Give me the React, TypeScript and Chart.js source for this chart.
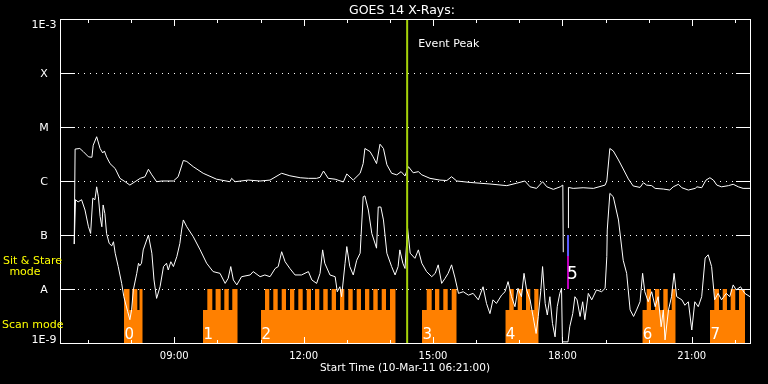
import React, { useEffect, useRef } from 'react';
import { Chart, registerables } from 'chart.js';

Chart.register(...registerables);

// ---------- data (time in decimal hours of 10-Mar-2011, flux in W/m^2) ----------
const chartTitle = 'GOES 14 X-Rays:';
const xAxisTitle = 'Start Time (10-Mar-11 06:21:00)';
const xMinHour = 6.35;
const xMaxHour = 22.35;
const xTickHours = [9, 12, 15, 18, 21];
const xTickLabels = ['09:00', '12:00', '15:00', '18:00', '21:00'];
const hourTicks = [7, 8, 9, 10, 11, 12, 13, 14, 15, 16, 17, 18, 19, 20, 21, 22];
const yTickValues = [1e-9, 1e-8, 1e-7, 1e-6, 1e-5, 1e-4, 1e-3];
const yTickLabels = ['1E-9', 'A', 'B', 'C', 'M', 'X', '1E-3'];

const longTimes = [
  6.68, 6.70, 6.81, 6.89, 7.01, 7.09, 7.12, 7.20, 7.28, 7.34, 7.38, 7.43, 7.51, 7.63, 7.74, 7.86,
  7.97, 8.09, 8.21, 8.32, 8.40, 8.48, 8.59, 8.71, 8.98, 9.09, 9.21, 9.29, 9.44, 9.67, 9.98, 10.29,
  10.33, 10.41, 10.72, 10.99, 11.22, 11.49, 11.68, 11.92, 12.11, 12.30, 12.38, 12.46, 12.57, 12.73,
  12.92, 13.00, 13.15, 13.31, 13.38, 13.42, 13.54, 13.61, 13.69, 13.77, 13.85, 13.93, 14.04, 14.16,
  14.26, 14.35, 14.43, 14.54, 14.66, 14.74, 14.93, 15.16, 15.32, 15.43, 15.55, 15.86, 16.32, 16.71,
  16.94, 17.13, 17.25, 17.40, 17.54, 17.64, 17.79, 17.95, 18.01, 18.02, 18.07, 18.135, 18.14, 18.25,
  18.48, 18.72, 18.99, 19.03, 19.10, 19.18, 19.30, 19.41, 19.53, 19.64, 19.80, 19.88, 19.95, 20.07,
  20.15, 20.34, 20.49, 20.57, 20.69, 20.77, 20.92, 21.08, 21.12, 21.23, 21.33, 21.42, 21.50, 21.58,
  21.69, 21.85, 21.96, 22.08, 22.19, 22.35,
];
const longFlux = [
  6.8e-8, 3.9e-6, 4.0e-6, 3.5e-6, 2.8e-6, 2.75e-6, 4.6e-6, 6.6e-6, 4.0e-6, 3.3e-6, 3.6e-6, 2.8e-6, 2.1e-6, 1.7e-6, 1.12e-6, 9.7e-7,
  8.4e-7, 9.7e-7, 1.12e-6, 1.2e-6, 1.65e-6, 1.3e-6, 9.7e-7, 1.0e-6, 1.0e-6, 1.2e-6, 2.4e-6, 2.3e-6, 1.84e-6, 1.39e-6, 1.08e-6, 9.7e-7,
  1.12e-6, 9.7e-7, 1.04e-6, 1.0e-6, 1.04e-6, 1.39e-6, 1.25e-6, 1.15e-6, 1.12e-6, 1.12e-6, 1.17e-6, 1.53e-6, 1.12e-6, 1.08e-6,
  9.6e-7, 1.35e-6, 1.04e-6, 1.39e-6, 2.1e-6, 4.0e-6, 3.5e-6, 2.8e-6, 2.1e-6, 4.8e-6, 4.0e-6, 2.0e-6, 1.39e-6, 1.3e-6,
  1.49e-6, 1.24e-6, 1.84e-6, 1.42e-6, 1.49e-6, 1.3e-6, 1.12e-6, 1.04e-6, 1.02e-6, 1.2e-6, 1.0e-6, 9.4e-7, 8.8e-7, 8.2e-7,
  9.1e-7, 1.0e-6, 7.8e-7, 7.3e-7, 9.7e-7, 7.8e-7, 7.0e-7, 7.8e-7, 8.4e-7, 4.8e-8, null, 1.35e-7, 7.6e-7, 7.3e-7,
  7.5e-7, 7.3e-7, 8.4e-7, 1.0e-6, 4.0e-6, 3.6e-6, 2.45e-6, 1.67e-6, 1.09e-6, 8.1e-7, 7.6e-7, 9.3e-7, 8.4e-7, 8.2e-7,
  7.3e-7, 7.1e-7, 6.8e-7, 7.8e-7, 8.7e-7, 7.5e-7, 6.8e-7, 7.3e-7, 7.8e-7, 7.5e-7, 1.04e-6, 1.15e-6, 1.04e-6, 8.4e-7,
  7.8e-7, 8.2e-7, 8.7e-7, 7.8e-7, 7.3e-7, 7.3e-7,
];

const shortTimes = [
  6.68, 6.71, 6.77, 6.85, 6.93, 7.01, 7.06, 7.11, 7.16, 7.20, 7.24, 7.28, 7.32, 7.35, 7.39, 7.43,
  7.49, 7.55, 7.59, 7.63, 7.70, 7.78, 7.83, 7.92, 7.97, 8.01, 8.05, 8.13, 8.17, 8.20, 8.24, 8.28,
  8.40, 8.48, 8.53, 8.59, 8.67, 8.75, 8.82, 8.86, 8.92, 8.98, 9.06, 9.13, 9.17, 9.21, 9.29, 9.44,
  9.60, 9.75, 9.90, 10.06, 10.18, 10.25, 10.31, 10.37, 10.45, 10.56, 10.76, 10.83, 10.99, 11.10,
  11.22, 11.34, 11.41, 11.49, 11.57, 11.68, 11.80, 11.95, 12.11, 12.19, 12.30, 12.38, 12.44, 12.49,
  12.61, 12.73, 12.78, 12.84, 12.88, 12.96, 13.00, 13.07, 13.15, 13.23, 13.31, 13.38, 13.42, 13.50,
  13.58, 13.69, 13.73, 13.79, 13.85, 13.93, 14.04, 14.12, 14.19, 14.23, 14.30, 14.35, 14.41, 14.47,
  14.58, 14.66, 14.74, 14.85, 14.97, 15.05, 15.12, 15.20, 15.28, 15.35, 15.43, 15.51, 15.59, 15.70,
  15.82, 15.93, 16.05, 16.16, 16.24, 16.32, 16.39, 16.47, 16.59, 16.67, 16.74, 16.82, 16.90, 16.97,
  17.05, 17.11, 17.17, 17.25, 17.32, 17.39, 17.44, 17.50, 17.54, 17.60, 17.65, 17.71, 17.77, 17.83,
  17.88, 17.94, 17.98, 18.00, 18.13, 18.17, 18.24, 18.29, 18.34, 18.41, 18.47, 18.52, 18.60, 18.68,
  18.79, 18.91, 18.99, 19.03, 19.04, 19.10, 19.18, 19.30, 19.41, 19.49, 19.57, 19.65, 19.72, 19.80,
  19.86, 19.91, 19.99, 20.07, 20.15, 20.22, 20.29, 20.34, 20.38, 20.46, 20.53, 20.59, 20.65, 20.77,
  20.84, 20.92, 21.00, 21.07, 21.15, 21.23, 21.31, 21.38, 21.46, 21.53, 21.61, 21.69, 21.80, 21.88,
  21.96, 22.03, 22.13, 22.23, 22.35,
];
const shortFlux = [
  6.8e-8, 4.5e-7, 4.1e-7, 4.5e-7, 2.9e-7, 1.42e-7, 1.07e-7, 4.8e-7, 4.5e-7, 7.8e-7, 5.1e-7, 2.2e-7, 1.42e-7, 3.6e-7, 2.5e-7, 1.07e-7,
  7.0e-8, 6.3e-8, 7.5e-8, 4.6e-8, 2.6e-8, 1.27e-8, 7.2e-9, 3.8e-9, 2.7e-9, 4.1e-9, 9.6e-9, 1.95e-8, 3.0e-8, 2.7e-8, 3.0e-8, 5.3e-8,
  1.0e-7, 4.6e-8, 1.47e-8, 6.7e-9, 1.1e-8, 2.6e-8, 3.0e-8, 2.25e-8, 3.2e-8, 2.6e-8, 4.0e-8, 7.0e-8, 1.24e-7, 1.9e-7, 1.42e-7, 9.3e-8,
  5.3e-8, 3.0e-8, 2.1e-8, 1.95e-8, 1.27e-8, 1.58e-8, 2.6e-8, 1.47e-8, 1.19e-8, 1.69e-8, 1.82e-8, 2.1e-8, 1.69e-8, 1.82e-8,
  1.69e-8, 2.4e-8, 2.6e-8, 4.9e-8, 3.2e-8, 2.4e-8, 1.82e-8, 1.82e-8, 2.1e-8, 1.47e-8, 1.27e-8, 1.95e-8, 5.3e-8, 3.0e-8,
  1.82e-8, 1.69e-8, 8.9e-9, 1.1e-8, 7.2e-9, 3.0e-8, 6.1e-8, 2.6e-8, 1.82e-8, 3.4e-8, 4.6e-8, 5.1e-7, 5.3e-7, 2.9e-7,
  1.07e-7, 5.7e-8, 3.3e-7, 3.3e-7, 1.9e-7, 4.6e-8, 2.6e-8, 1.82e-8, 2.6e-8, 5.3e-8, 3.0e-8, 2.4e-8, 1.33e-7, 4.6e-8,
  3.7e-8, 5.3e-8, 3.0e-8, 2.1e-8, 1.69e-8, 1.95e-8, 2.8e-8, 1.27e-8, 1.58e-8, 1.95e-8, 2.8e-8, 1.6e-8, 8.3e-9, 8.9e-9,
  7.7e-9, 8.3e-9, 6.3e-9, 1.1e-8, 5.4e-9, 3.5e-9, 6.3e-9, 5.4e-9, 7.7e-9, 8.9e-9, 1.37e-8, 7.2e-9, 4.7e-9, 1.03e-8,
  7.2e-9, 1.95e-8, 9.6e-9, 6.3e-9, 3.1e-9, 1.5e-9, 3.1e-9, 9.6e-9, 2.6e-8, 5.4e-9, 3.3e-9, 7.2e-9, 2.3e-9, 1.3e-9,
  4.7e-9, 8.3e-9, 1.03e-8, 1.05e-9, 1.05e-9, 2.0e-9, 3.5e-9, 7.2e-9, 6.3e-9, 3.1e-9, 5.8e-9, 2.7e-9, 8.3e-9, 6.3e-9,
  9.6e-9, 8.9e-9, 1.03e-8, 4.0e-8, 1.24e-7, 5.9e-7, 5.1e-7, 1.9e-7, 3.4e-8, 1.95e-8, 4.1e-9, 3.1e-9, 4.1e-9, 5.8e-9,
  1.95e-8, 8.9e-9, 5.8e-9, 8.9e-9, 4.7e-9, 7.2e-9, 2.0e-9, 4.1e-9, 1.14e-9, 4.1e-9, 7.2e-9, 1.95e-8, 7.2e-9, 6.3e-9,
  5.0e-9, 5.8e-9, 1.74e-9, 5.8e-9, 4.7e-9, 7.2e-9, 3.75e-8, 4.3e-8, 2.6e-8, 6.3e-9, 8.3e-9, 6.3e-9, 8.3e-9, 7.2e-9,
  1.19e-8, 9.6e-9, 1.1e-8, 8.3e-9, 7.2e-9,
];

// observing mode segments
const scanSegLabels = ['0', '1', '2', '3', '4', '6', '7'];
const scanSegStart = [7.834, 9.666, 11.011, 14.744, 16.676, 19.853, 21.422];
const scanSegEnd = [8.268, 10.471, 14.134, 15.549, 17.45, 20.627, 22.234];
const scanSpikes: number[][][] = [
  [[7.834, 7.962], [8.027, 8.143], [8.194, 8.268]],
  [[9.766, 9.882], [9.958, 10.076], [10.16, 10.262], [10.345, 10.471]],
  [[11.104, 11.203], [11.296, 11.398], [11.491, 11.591], [11.683, 11.783], [11.876, 11.978], [12.071, 12.17],
   [12.263, 12.363], [12.455, 12.558], [12.65, 12.75], [12.843, 12.943], [13.035, 13.137], [13.23, 13.33],
   [13.423, 13.522], [13.615, 13.717], [13.81, 13.909], [14.002, 14.134]],
  [[14.853, 14.969], [15.046, 15.145], [15.238, 15.34], [15.433, 15.549]],
  [[16.768, 16.871], [16.963, 17.063], [17.156, 17.255], [17.348, 17.45]],
  [[19.955, 20.054], [20.147, 20.247], [20.34, 20.442], [20.534, 20.627]],
  [[21.522, 21.631], [21.717, 21.816], [21.902, 22.009], [22.095, 22.234]],
];
const scanBaseFlux = 4.1e-9;
const sitStareFlux = 1e-8;

const eventPeakTime = 14.4;
const eventPeakLabel = 'Event Peak';
const marker5Time = 18.13;
const marker5Label = '5';
const marker5Flux = [1e-7, 4.1e-8, 1e-8];

const WHITE = '#ffffff';
const ORANGE = '#ff8000';
const GREEN = '#a6d40a';
const BLUE = '#5b5bff';
const MAGENTA = '#c000c0';
const YELLOW = '#ffff00';

function segmentPoints(i: number) {
  const pts: { x: number; y: number }[] = [{ x: scanSegStart[i], y: scanBaseFlux }];
  scanSpikes[i].forEach(([a, b]) => {
    pts.push({ x: a, y: scanBaseFlux }, { x: a, y: sitStareFlux }, { x: b, y: sitStareFlux }, { x: b, y: scanBaseFlux });
  });
  pts.push({ x: scanSegEnd[i], y: scanBaseFlux });
  return pts;
}

const decorPlugin = {
  id: 'goesDecor',
  beforeDraw(chart: any) {
    const { ctx, width, height } = chart;
    ctx.save();
    ctx.fillStyle = '#000';
    ctx.fillRect(0, 0, width, height);
    ctx.restore();
  },
  beforeDatasetsDraw(chart: any) {
    const { ctx, chartArea, scales } = chart;
    const y = scales.y;
    ctx.save();
    ctx.strokeStyle = WHITE;
    ctx.lineWidth = 1;
    ctx.setLineDash([1, 5]);
    yTickValues.slice(1, -1).forEach((v) => {
      const py = Math.round(y.getPixelForValue(v)) + 0.5;
      ctx.beginPath();
      ctx.moveTo(chartArea.left + 18, py);
      ctx.lineTo(chartArea.right - 14, py);
      ctx.stroke();
    });
    ctx.restore();
  },
  afterDatasetsDraw(chart: any) {
    const { ctx, chartArea, scales } = chart;
    const { left, right, top, bottom } = chartArea;
    const x = scales.x;
    const y = scales.y;
    ctx.save();
    ctx.setLineDash([]);
    ctx.strokeStyle = WHITE;
    ctx.lineWidth = 1;
    ctx.strokeRect(left + 0.5, top + 0.5, right - left, bottom - top);
    // y ticks
    yTickValues.forEach((v) => {
      const py = Math.round(y.getPixelForValue(v)) + 0.5;
      ctx.beginPath();
      ctx.moveTo(left, py);
      ctx.lineTo(left + 15, py);
      ctx.moveTo(right - 14, py);
      ctx.lineTo(right + 1, py);
      ctx.stroke();
    });
    // x ticks
    hourTicks.forEach((h) => {
      const px = Math.round(x.getPixelForValue(h)) + 0.5;
      const len = xTickHours.includes(h) ? 7 : 4;
      ctx.beginPath();
      ctx.moveTo(px, top);
      ctx.lineTo(px, top + len);
      ctx.moveTo(px, bottom + 1);
      ctx.lineTo(px, bottom + 1 - len);
      ctx.stroke();
    });
    // y labels
    ctx.fillStyle = WHITE;
    ctx.font = '11px "DejaVu Sans"';
    ctx.textAlign = 'center';
    ctx.textBaseline = 'alphabetic';
    yTickValues.forEach((v, i) => {
      const py = y.getPixelForValue(v);
      let by = py + 4.3;
      if (i === 0) by = py;
      if (i === yTickValues.length - 1) by = py + 8.5;
      ctx.fillText(yTickLabels[i], 44, by);
    });
    // title
    ctx.font = '12.5px "DejaVu Sans"';
    ctx.fillText(chartTitle, (left + right) / 2 - 3, 14);
    // event peak label
    ctx.textAlign = 'left';
    ctx.font = '11px "DejaVu Sans"';
    ctx.fillText(eventPeakLabel, x.getPixelForValue(eventPeakTime) + 11, 47);
    // segment labels
    ctx.font = '15px "DejaVu Sans"';
    scanSegLabels.forEach((lab, i) => {
      ctx.fillText(lab, x.getPixelForValue(scanSegStart[i]) + 0.5, 338.5);
    });
    ctx.font = '17px "DejaVu Sans"';
    ctx.fillText(marker5Label, x.getPixelForValue(marker5Time) - 1, 278.5);
    // mode labels
    ctx.fillStyle = YELLOW;
    ctx.font = '11px "DejaVu Sans"';
    ctx.fillText('Sit & Stare', 3, 263.5);
    ctx.textAlign = 'center';
    ctx.fillText('mode', 25, 275);
    ctx.textAlign = 'left';
    ctx.fillText('Scan mode', 2, 327.5);
    ctx.restore();
  },
};

export default function App() {
  const canvasRef = useRef<HTMLCanvasElement | null>(null);

  useEffect(() => {
    document.body.style.margin = '0';
    document.body.style.background = '#000';
    const canvas = canvasRef.current;
    if (!canvas) return;

    const datasets: any[] = [];
    datasets.push({
      label: 'Event Peak',
      data: [{ x: eventPeakTime, y: 1e-9 }, { x: eventPeakTime, y: 1e-3 }],
      borderColor: GREEN,
      borderWidth: 2,
      pointRadius: 0,
      order: 0,
    });
    datasets.push({
      label: 'marker5a',
      data: [{ x: marker5Time, y: marker5Flux[0] }, { x: marker5Time, y: marker5Flux[1] }],
      borderColor: BLUE,
      borderWidth: 2,
      pointRadius: 0,
      order: 1,
    });
    datasets.push({
      label: 'marker5b',
      data: [{ x: marker5Time, y: marker5Flux[1] }, { x: marker5Time, y: marker5Flux[2] }],
      borderColor: MAGENTA,
      borderWidth: 2,
      pointRadius: 0,
      order: 1,
    });
    datasets.push({
      label: 'GOES 1-8 A',
      data: longTimes.map((t, i) => ({ x: t, y: longFlux[i] })),
      borderColor: WHITE,
      borderWidth: 1,
      pointRadius: 0,
      tension: 0,
      spanGaps: false,
      order: 2,
    });
    datasets.push({
      label: 'GOES 0.5-4 A',
      data: shortTimes.map((t, i) => ({ x: t, y: shortFlux[i] })),
      borderColor: WHITE,
      borderWidth: 1,
      pointRadius: 0,
      tension: 0,
      spanGaps: false,
      order: 2,
    });
    scanSegLabels.forEach((lab, i) => {
      datasets.push({
        label: 'segment ' + lab,
        data: segmentPoints(i),
        borderColor: 'rgba(0,0,0,0)',
        borderWidth: 1,
        backgroundColor: ORANGE,
        fill: 'start',
        pointRadius: 0,
        tension: 0,
        order: 3,
      });
    });

    const chart = new Chart(canvas, {
      type: 'line',
      data: { datasets },
      options: {
        animation: false,
        responsive: false,
        events: [],
        layout: { padding: { left: 60, right: 18, top: 19, bottom: 0 } },
        plugins: {
          legend: { display: false },
          tooltip: { enabled: false },
          title: { display: false },
        },
        scales: {
          x: {
            type: 'linear',
            position: 'bottom',
            min: xMinHour,
            max: xMaxHour,
            afterBuildTicks: (s: any) => {
              s.ticks = xTickHours.map((v) => ({ value: v }));
            },
            afterFit: (s: any) => {
              s.height = 41;
            },
            ticks: {
              color: WHITE,
              font: { family: 'DejaVu Sans', size: 10 },
              padding: 7,
              maxRotation: 0,
              autoSkip: false,
              callback: (_v: any, i: number) => xTickLabels[i],
            },
            grid: { display: false, drawTicks: false },
            border: { display: false },
            title: {
              display: true,
              text: xAxisTitle,
              color: WHITE,
              font: { family: 'DejaVu Sans', size: 10.5 },
              padding: { top: 0, bottom: 9.7 },
            },
          },
          y: {
            type: 'logarithmic',
            min: 1e-9,
            max: 1e-3,
            display: false,
            afterBuildTicks: (s: any) => {
              s.ticks = yTickValues.map((v) => ({ value: v }));
            },
          },
        },
      } as any,
      plugins: [decorPlugin],
    });

    return () => {
      chart.destroy();
    };
  }, []);

  return (
    <div style={{ position: 'absolute', left: 0, top: 0, width: 768, height: 384, background: '#000' }}>
      <canvas ref={canvasRef} width={768} height={384} style={{ display: 'block' }} />
    </div>
  );
}
